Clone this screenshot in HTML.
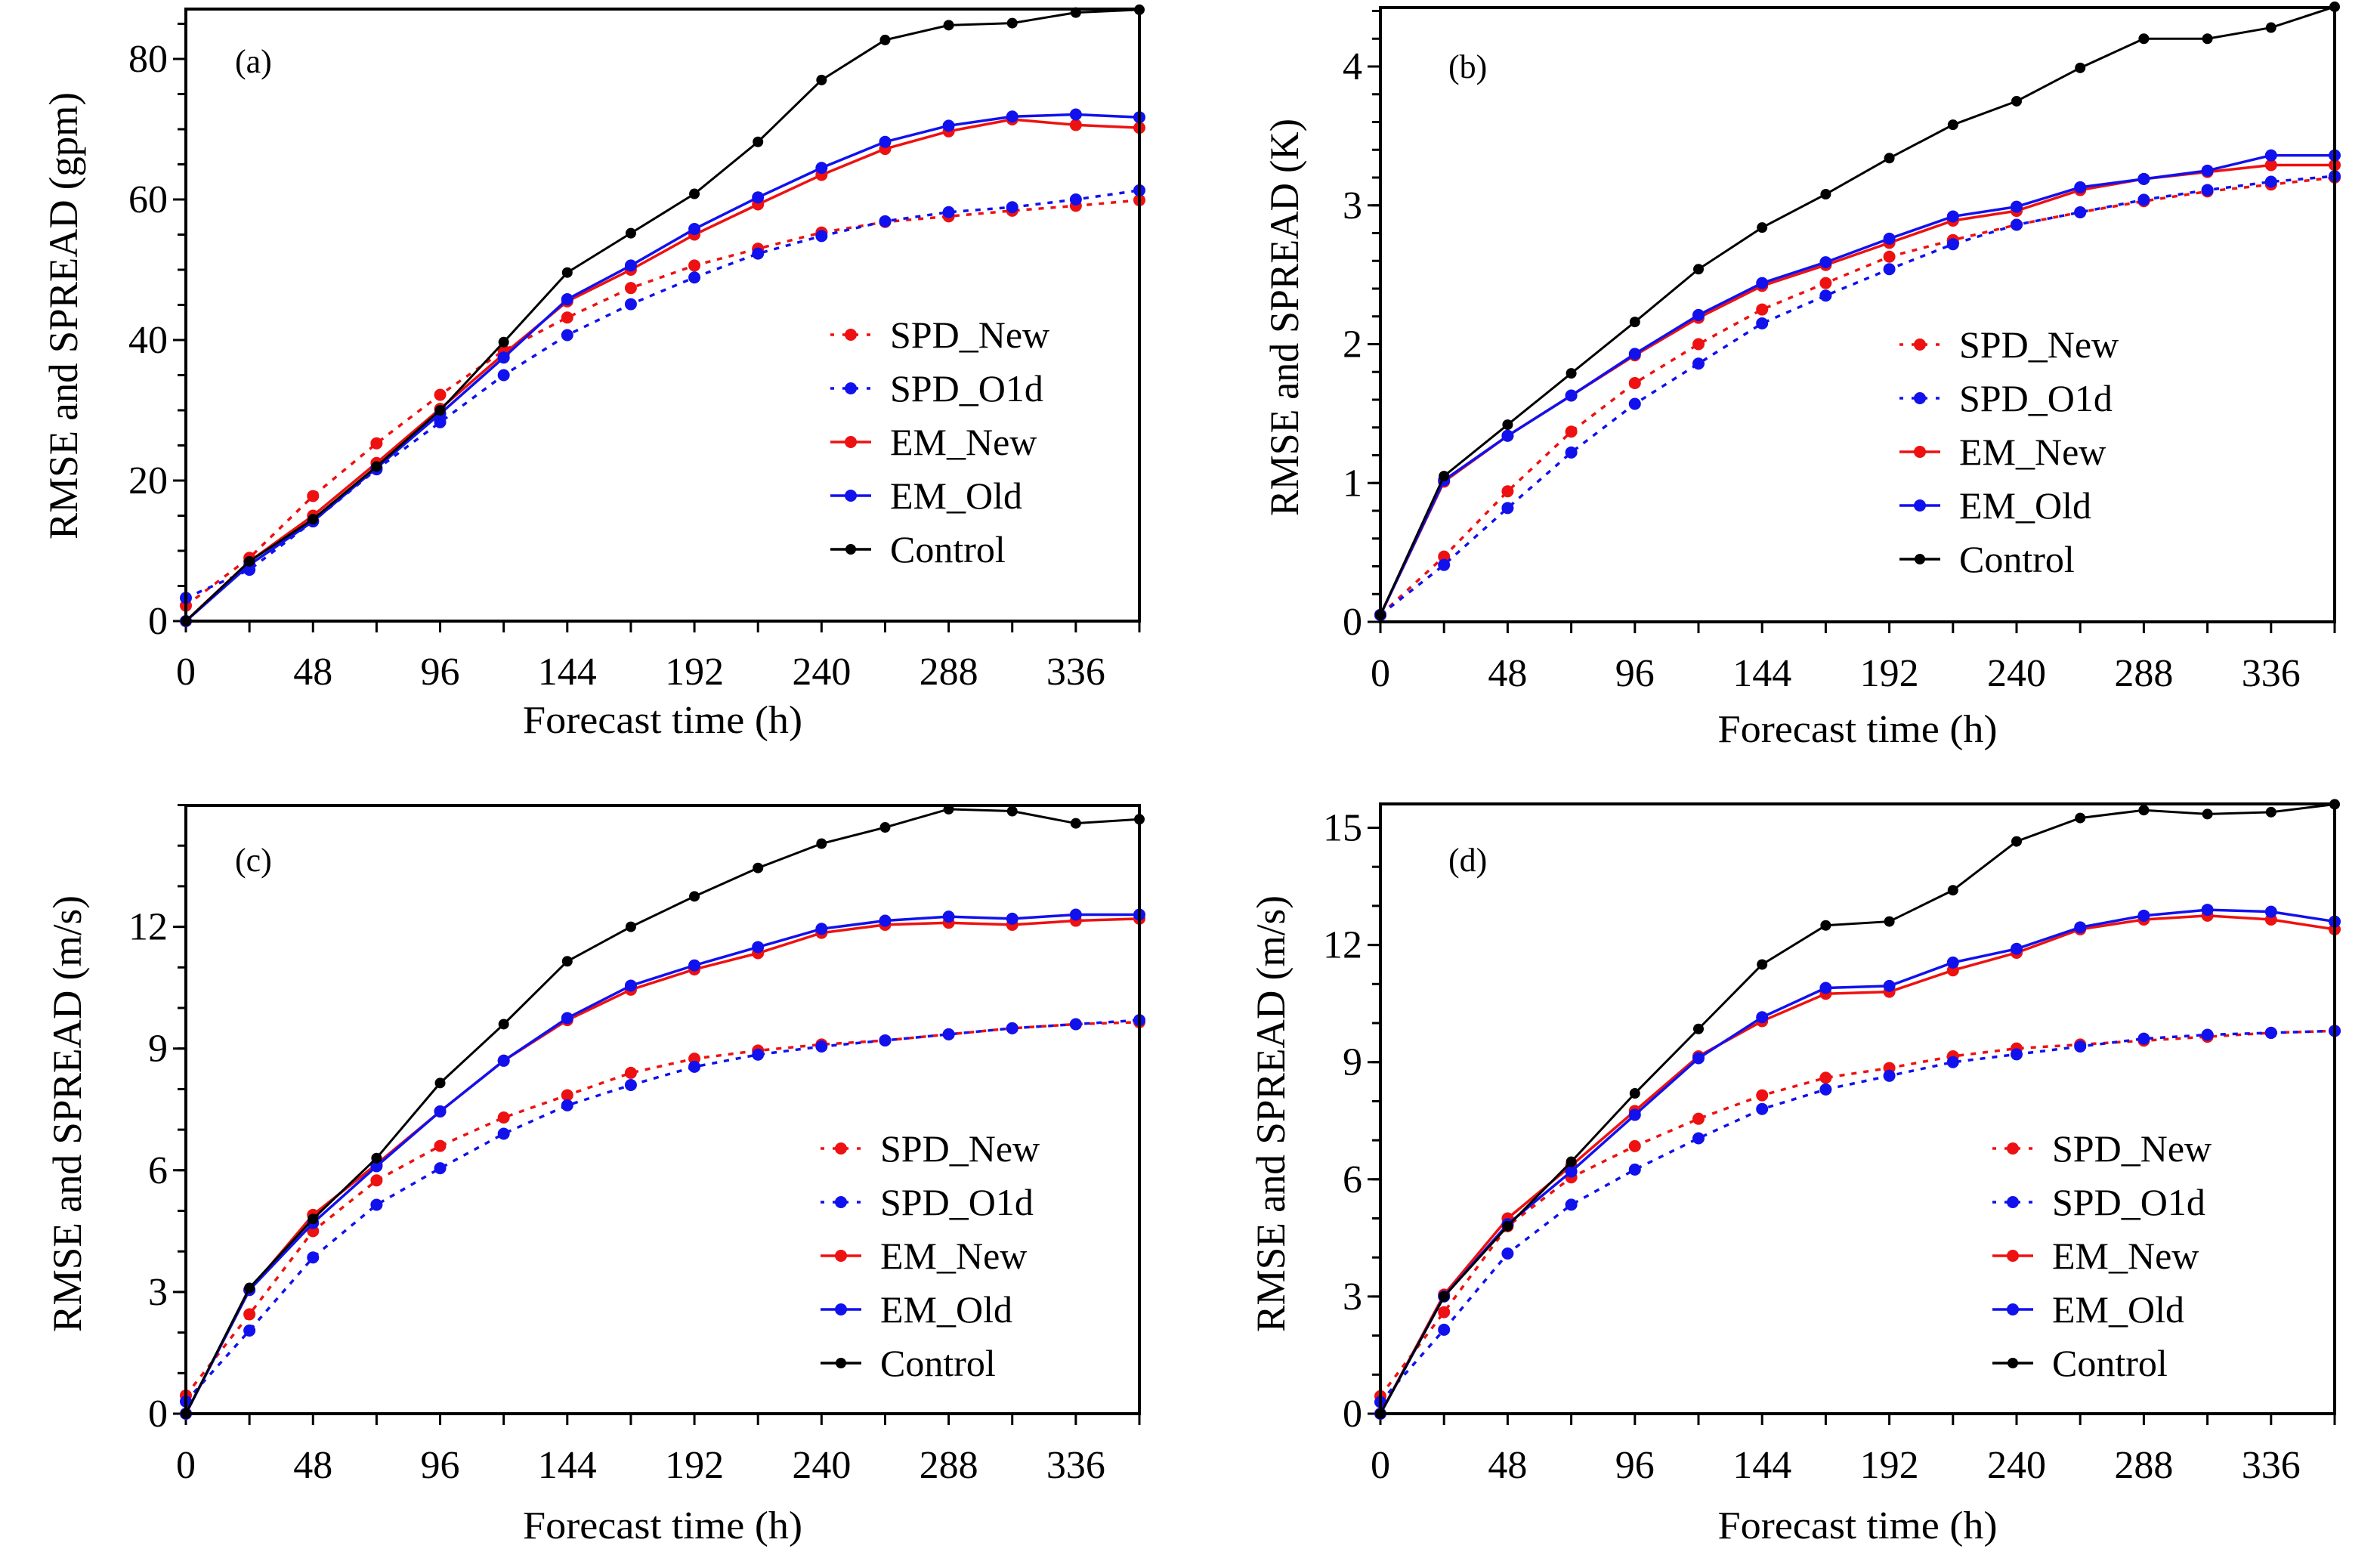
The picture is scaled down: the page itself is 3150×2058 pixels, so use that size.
<!DOCTYPE html>
<html><head><meta charset="utf-8"><style>
html,body{margin:0;padding:0;background:#fff;}
svg{display:block;}
svg text{font-family:"Liberation Serif","Times New Roman",serif;}
</style></head><body>
<svg id="fig" xmlns="http://www.w3.org/2000/svg" width="3150" height="2058" viewBox="0 0 3150 2058" font-family="Liberation Serif, serif"></svg>
<script>
const hours = [0,24,48,72,96,120,144,168,192,216,240,264,288,312,336,360];
const seriesNames = ["SPD_New","SPD_Old","EM_New","EM_Old","Control"];
const legendLabels = ["SPD_New","SPD_O1d","EM_New","EM_Old","Control"];
const xTickLabels = [0,48,96,144,192,240,288,336];

const a_spdNew = [2.2,9,17.8,25.3,32.2,38.5,43.2,47.4,50.6,53,55.3,56.8,57.6,58.4,59.1,59.9];
const a_spdOld = [3.3,7.3,14.2,21.6,28.3,35,40.7,45.1,48.9,52.3,54.8,56.9,58.2,58.9,60.0,61.3];
const a_emNew = [0,8.5,15,22.5,30.2,38,45.5,50,55,59.3,63.5,67.2,69.7,71.4,70.6,70.2];
const a_emOld = [0,8,14.2,21.8,29.5,37.5,45.8,50.6,55.8,60.3,64.5,68.2,70.5,71.8,72.1,71.7];
const a_control = [0,8.5,14.5,22,30,39.7,49.6,55.2,60.8,68.2,77,82.7,84.8,85.1,86.6,87];

const b_spdNew = [0.05,0.47,0.94,1.37,1.72,2.00,2.25,2.44,2.63,2.75,2.86,2.95,3.03,3.10,3.15,3.20];
const b_spdOld = [0.05,0.41,0.82,1.22,1.57,1.86,2.15,2.35,2.54,2.72,2.86,2.95,3.04,3.11,3.17,3.21];
const b_emNew = [0.05,1.01,1.34,1.63,1.92,2.19,2.42,2.57,2.73,2.89,2.96,3.11,3.19,3.24,3.29,3.29];
const b_emOld = [0.05,1.02,1.34,1.63,1.93,2.21,2.44,2.59,2.76,2.92,2.99,3.13,3.19,3.25,3.36,3.36];
const b_control = [0.05,1.05,1.42,1.79,2.16,2.54,2.84,3.08,3.34,3.58,3.75,3.99,4.20,4.20,4.28,4.43];

const c_spdNew = [0.45,2.45,4.5,5.75,6.6,7.3,7.85,8.4,8.75,8.95,9.1,9.2,9.35,9.5,9.6,9.65];
const c_spdOld = [0.3,2.05,3.85,5.15,6.05,6.9,7.6,8.1,8.55,8.85,9.05,9.2,9.35,9.5,9.6,9.7];
const c_emNew = [0,3.05,4.9,6.15,7.45,8.7,9.7,10.45,10.95,11.35,11.85,12.05,12.1,12.05,12.15,12.2];
const c_emOld = [0,3.05,4.7,6.1,7.45,8.7,9.75,10.55,11.05,11.5,11.95,12.15,12.25,12.2,12.3,12.3];
const c_control = [0,3.1,4.8,6.3,8.15,9.6,11.15,12.0,12.75,13.45,14.05,14.45,14.9,14.85,14.55,14.65];

const d_spdNew = [0.45,2.6,4.8,6.05,6.85,7.55,8.15,8.6,8.85,9.15,9.35,9.45,9.55,9.65,9.75,9.8];
const d_spdOld = [0.3,2.15,4.1,5.35,6.25,7.05,7.8,8.3,8.65,9.0,9.2,9.4,9.6,9.7,9.75,9.8];
const d_emNew = [0,3.05,5.0,6.35,7.75,9.15,10.05,10.75,10.8,11.35,11.8,12.4,12.65,12.75,12.65,12.4];
const d_emOld = [0,3.0,4.85,6.2,7.65,9.1,10.15,10.9,10.95,11.55,11.9,12.45,12.75,12.9,12.85,12.6];
const d_control = [0,3.0,4.8,6.45,8.2,9.85,11.5,12.5,12.6,13.4,14.65,15.25,15.45,15.35,15.4,15.6];

const a_yTicks = [0,20,40,60,80];
const b_yTicks = [0,1,2,3,4];
const c_yTicks = [0,3,6,9,12];
const d_yTicks = [0,3,6,9,12,15];

const NS = "http://www.w3.org/2000/svg";
const svg = document.getElementById("fig");
function el(tag, attrs, parent){
  const e = document.createElementNS(NS, tag);
  for (const k in attrs) e.setAttribute(k, attrs[k]);
  (parent||svg).appendChild(e);
  return e;
}
const colors = ["#ee1111","#1111ee","#ee1111","#1111ee","#000000"];
const dashed = [true,true,false,false,false];

function panel(p){
  const g = el("g", {});
  
  
  const L=p.L, R=p.R, B=p.B, T=p.T;
  const xs = h => L + (h/360)*(R-L);
  const ys = v => B - v*p.ppu;
  for (let v=0; ys(v) >= T-1; v += p.minor){
    const t = el("line",{x1:L-11,x2:L,y1:ys(v),y2:ys(v),stroke:"#000","stroke-width":3},g);
    
    
  }
  p.yTicks.forEach(v=>{
    const t = el("line",{x1:L-17,x2:L,y1:ys(v),y2:ys(v),stroke:"#000","stroke-width":3},g);
    
    
    const tx = el("text",{x:L-24,y:ys(v)+17,"text-anchor":"end","font-size":52},g);
    tx.textContent = v;
    
    
  });
  hours.forEach(h=>{
    const t = el("line",{x1:xs(h),x2:xs(h),y1:B,y2:B+15,stroke:"#000","stroke-width":3},g);
    
    
  });
  xTickLabels.forEach(h=>{
    const tx = el("text",{x:xs(h),y:p.xlabY,"text-anchor":"middle","font-size":52},g);
    tx.textContent = h;
    
    
  });
  p.data.forEach((arr,i)=>{
    const sg = el("g",{},g);
    
    
    const pts = arr.map((v,j)=>xs(hours[j])+","+ys(v)).join(" ");
    const pl = el("polyline",{points:pts,fill:"none",stroke:colors[i],"stroke-width":i==4?3:3.5},sg);
    if (dashed[i]) pl.setAttribute("stroke-dasharray","7,9");
    
    
    arr.forEach((v,j)=>{
      const c = el("circle",{cx:xs(hours[j]),cy:ys(v),r:i==4?7:8,fill:colors[i]},sg);
      
      
    });
  });
  const fr = el("rect",{x:L,y:T,width:R-L,height:B-T,fill:"none",stroke:"#000","stroke-width":4},g);
  
  
  const pl = el("text",{x:p.lab[0],y:p.lab[1],"font-size":44},g);
  pl.textContent = "(" + p.id + ")";
  
  
  const xt = el("text",{x:(L+R)/2,y:p.xtitleY,"text-anchor":"middle","font-size":52,textLength:370,lengthAdjust:"spacingAndGlyphs"},g);
  xt.textContent = "Forecast time (h)";
  
  
  const yt = el("text",{x:0,y:0,"text-anchor":"middle","font-size":54,textLength:p.ytLen,lengthAdjust:"spacingAndGlyphs",transform:`translate(${p.ytX},${p.ytY}) rotate(-90)`},g);
  yt.textContent = p.ytitle;
  
  
  const lg = el("g",{},g);
  
  
  legendLabels.forEach((name,i)=>{
    const y = p.leg[1] + i*71;
    const x0 = p.leg[0];
    const eg = el("g",{},lg);
    
    
    const ln = el("line",{x1:x0,x2:x0+54,y1:y,y2:y,stroke:colors[i],"stroke-width":3.5},eg);
    if (dashed[i]) ln.setAttribute("stroke-dasharray","5,11");
    el("circle",{cx:x0+27,cy:y,r:i==4?7:8,fill:colors[i]},eg);
    const t = el("text",{x:x0+79,y:y+17,"font-size":50},eg);
    t.textContent = name;
  });
}

panel({id:"a",L:246,R:1508,T:12,B:822,ppu:9.3,minor:5,yTicks:a_yTicks,data:[a_spdNew,a_spdOld,a_emNew,a_emOld,a_control],
  xlabY:906,xtitleY:970,lab:[311,96],ytitle:"RMSE and SPREAD (gpm)",ytX:102,ytY:418,ytLen:592,leg:[1099,443]});
panel({id:"b",L:1827,R:3090,T:10,B:823,ppu:183.75,minor:0.2,yTicks:b_yTicks,data:[b_spdNew,b_spdOld,b_emNew,b_emOld,b_control],
  xlabY:908,xtitleY:982,lab:[1917,103],ytitle:"RMSE and SPREAD (K)",ytX:1718,ytY:420,ytLen:526,leg:[2514,456]});
panel({id:"c",L:246,R:1508,T:1066,B:1871,ppu:53.7,minor:1,yTicks:c_yTicks,data:[c_spdNew,c_spdOld,c_emNew,c_emOld,c_control],
  xlabY:1956,xtitleY:2036,lab:[311,1153],ytitle:"RMSE and SPREAD (m/s)",ytX:107,ytY:1474,ytLen:578,leg:[1086,1520]});
panel({id:"d",L:1827,R:3090,T:1064,B:1871,ppu:51.7,minor:1,yTicks:d_yTicks,data:[d_spdNew,d_spdOld,d_emNew,d_emOld,d_control],
  xlabY:1956,xtitleY:2036,lab:[1917,1153],ytitle:"RMSE and SPREAD (m/s)",ytX:1700,ytY:1474,ytLen:578,leg:[2637,1520]});
</script>
</body></html>
